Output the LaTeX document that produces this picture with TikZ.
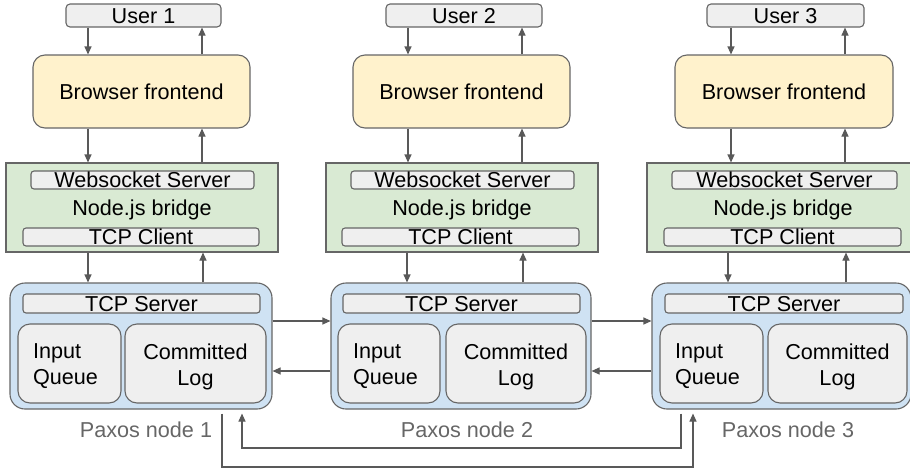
\documentclass[tikz,border=0pt]{standalone}
\usepackage{fontspec}
\setmainfont{Liberation Sans}
\usetikzlibrary{arrows.meta}
\definecolor{linec}{HTML}{595959}
\definecolor{bordc}{HTML}{666666}
\definecolor{grayfill}{HTML}{EFEFEF}
\definecolor{yellowfill}{HTML}{FFF2CC}
\definecolor{greenfill}{HTML}{D9EAD3}
\definecolor{bluefill}{HTML}{CFE2F3}
\definecolor{labelc}{HTML}{666666}
\begin{document}
\begin{tikzpicture}[x=1pt,y=-1pt,
  font=\fontsize{21.6}{26}\selectfont,
  base/.style={draw=bordc, line width=1.1pt, inner sep=0pt, text height=15.5pt, text depth=0pt},
  userbox/.style={base, fill=grayfill, rounded corners=4pt, minimum height=23pt},
  browserbox/.style={base, fill=yellowfill, rounded corners=12pt, minimum height=73pt},
  bridgebox/.style={base, fill=greenfill, minimum height=89pt},
  smallbox/.style={base, fill=grayfill, rounded corners=3pt, minimum height=18pt},
  paxosbox/.style={draw=bordc, line width=1.1pt, fill=bluefill, rounded corners=15pt, minimum height=126pt, inner sep=0pt},
  queuebox/.style={draw=bordc, line width=1.1pt, fill=grayfill, rounded corners=12pt, minimum height=79pt, inner ysep=0pt, inner xsep=15pt, align=left, text height=15.5pt, text depth=26pt},
  logbox/.style={draw=bordc, line width=1.1pt, fill=grayfill, rounded corners=12pt, minimum height=79pt, inner sep=0pt, align=center, text height=44pt, text depth=0pt},
  paxlabel/.style={text=labelc, inner sep=0pt, text height=15.5pt, text depth=0pt},
  arr/.style={draw=linec, line width=1.1pt, -{Triangle[width=7pt,length=8pt]}},
  plain/.style={draw=linec, line width=1.1pt}]
\useasboundingbox (0,0) rectangle (910,469);

% ---------- column 1
\node[userbox, minimum width=155pt] (u1) at (143.5,15.5) {User 1};
\node[browserbox, minimum width=217pt] (b1) at (141.5,91.5) {Browser frontend};
\node[bridgebox, minimum width=272pt] (g1) at (142,207.5) {Node.js bridge};
\node[smallbox, minimum width=223pt] (ws1) at (142.5,180) {Websocket Server};
\node[smallbox, minimum width=236pt] (tc1) at (141,237) {TCP Client};
\node[paxosbox, minimum width=262pt] (p1) at (141,346) {};
\node[smallbox, minimum width=237pt, minimum height=19pt] (ts1) at (141.5,303.5) {TCP Server};
\node[queuebox, text width=73pt] (iq1) at (69.5,363.5) {Input\\Queue};
\node[logbox, minimum width=141pt] (cl1) at (195.5,363.5) {Committed\\Log};
\node[paxlabel] (l1) at (146,430) {Paxos node 1};

% ---------- column 2
\node[userbox, minimum width=156pt] (u2) at (464,15.5) {User 2};
\node[browserbox, minimum width=217pt] (b2) at (461.5,91.5) {Browser frontend};
\node[bridgebox, minimum width=272pt] (g2) at (462,207.5) {Node.js bridge};
\node[smallbox, minimum width=223pt] (ws2) at (462.5,180) {Websocket Server};
\node[smallbox, minimum width=237pt] (tc2) at (460.5,237) {TCP Client};
\node[paxosbox, minimum width=260pt] (p2) at (461,346) {};
\node[smallbox, minimum width=237pt, minimum height=19pt] (ts2) at (461.5,303.5) {TCP Server};
\node[queuebox, text width=72pt] (iq2) at (389,363.5) {Input\\Queue};
\node[logbox, minimum width=140pt] (cl2) at (516,363.5) {Committed\\Log};
\node[paxlabel] (l2) at (467,430) {Paxos node 2};

% ---------- column 3
\node[userbox, minimum width=157pt] (u3) at (785.5,15.5) {User 3};
\node[browserbox, minimum width=218pt] (b3) at (784,91.5) {Browser frontend};
\node[bridgebox, minimum width=272pt] (g3) at (783,207.5) {Node.js bridge};
\node[smallbox, minimum width=225pt] (ws3) at (784.5,180) {Websocket Server};
\node[smallbox, minimum width=237pt] (tc3) at (782.5,237) {TCP Client};
\node[paxosbox, minimum width=259pt] (p3) at (781.5,346) {};
\node[smallbox, minimum width=238pt, minimum height=19pt] (ts3) at (784,303.5) {TCP Server};
\node[queuebox, text width=73pt] (iq3) at (711.5,363.5) {Input\\Queue};
\node[logbox, minimum width=139pt] (cl3) at (837.5,363.5) {Committed\\Log};
\node[paxlabel] (l3) at (788,430) {Paxos node 3};

% ---------- vertical connector x positions
\coordinate (c1d) at (88,0);  \coordinate (c1u) at (202,0);
\coordinate (c1D) at (88,0);  \coordinate (c1U) at (203,0);
\coordinate (c2d) at (408,0); \coordinate (c2u) at (522,0);
\coordinate (c2D) at (407,0); \coordinate (c2U) at (523,0);
\coordinate (c3d) at (731,0); \coordinate (c3u) at (845,0);
\coordinate (c3D) at (728,0); \coordinate (c3U) at (846,0);

\foreach \i in {1,2,3}{
  \draw[arr] (u\i.south -| c\i d) -- (b\i.north -| c\i d);
  \draw[arr] (b\i.north -| c\i u) -- (u\i.south -| c\i u);
  \draw[arr] (b\i.south -| c\i d) -- (g\i.north -| c\i d);
  \draw[arr] (g\i.north -| c\i u) -- (b\i.south -| c\i u);
  \draw[arr] (g\i.south -| c\i D) -- (p\i.north -| c\i D);
  \draw[arr] (p\i.north -| c\i U) -- (g\i.south -| c\i U);
}

% ---------- horizontal connectors between paxos nodes
\coordinate (hr) at (0,321);
\coordinate (hl) at (0,371);
\draw[arr] (p1.east |- hr) -- (p2.west |- hr);
\draw[arr] (p2.west |- hl) -- (p1.east |- hl);
\draw[arr] (p2.east |- hr) -- (p3.west |- hr);
\draw[arr] (p3.west |- hl) -- (p2.east |- hl);

% ---------- bottom connectors between node 1 and node 3
\coordinate (bl1) at (222,467);
\coordinate (br1) at (693,467);
\coordinate (bl2) at (242,448);
\coordinate (br2) at (681,448);
\draw[arr, shorten <=4pt, shorten >=4pt] (p1.south -| bl1) -- (bl1) -- (br1) -- (p3.south -| br1);
\draw[arr, shorten <=4pt, shorten >=4pt] (p3.south -| br2) -- (br2) -- (bl2) -- (p1.south -| bl2);
\end{tikzpicture}
\end{document}
